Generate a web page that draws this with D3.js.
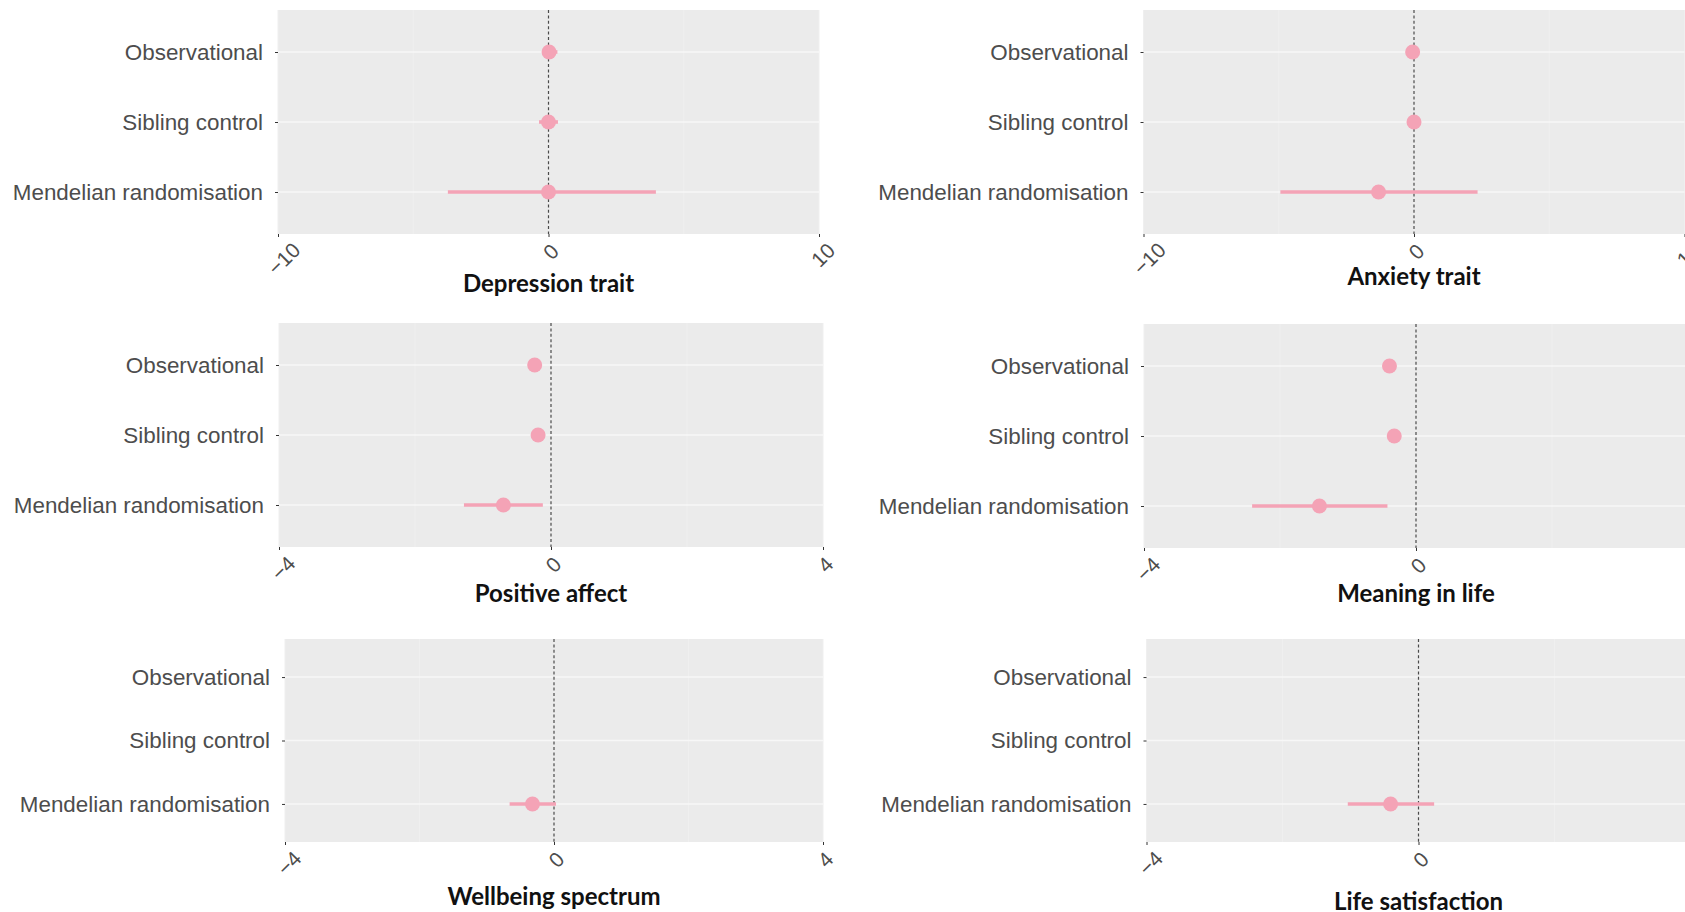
<!DOCTYPE html>
<html>
<head>
<meta charset="utf-8">
<script src="https://cdn.jsdelivr.net/npm/d3@7"></script>
<style>
  html, body { margin: 0; padding: 0; background: #ffffff; overflow: hidden; }
  svg { display: block; font-family: Lato, "Open Sans", sans-serif; }
</style>
</head>
<body>
<svg id="chart" width="1685" height="912"></svg>
<script>
// Study designs, top to bottom within every panel
const methods = ["Observational", "Sibling control", "Mendelian randomisation"];

// Outcome panels, in reading order
const outcomes = ["Depression trait", "Anxiety trait", "Positive affect",
                  "Meaning in life", "Wellbeing spectrum", "Life satisfaction"];

// Axis limits and tick labels per outcome
const xDomains = [[-10, 10], [-10, 10], [-4, 4], [-4, 4], [-4, 4], [-4, 4]];
const xTicks   = [[-10, 0, 10], [-10, 0, 10], [-4, 0, 4], [-4, 0, 4], [-4, 0, 4], [-4, 0, 4]];

// Point estimates (null = not estimated), one entry per method
const estimate = [
  [0.02, 0.0, 0.0],
  [-0.05, 0.0, -1.31],
  [-0.24, -0.19, -0.70],
  [-0.39, -0.32, -1.42],
  [null, null, -0.32],
  [null, null, -0.41]
];
// Lower and upper confidence limits
const ciLow = [
  [-0.2, -0.35, -3.72],
  [-0.2, -0.2, -4.94],
  [-0.29, -0.24, -1.28],
  [-0.44, -0.37, -2.41],
  [null, null, -0.66],
  [null, null, -1.04]
];
const ciHigh = [
  [0.33, 0.35, 3.97],
  [0.15, 0.2, 2.35],
  [-0.19, -0.14, -0.12],
  [-0.34, -0.27, -0.42],
  [null, null, 0.03],
  [null, null, 0.23]
];

// Panel frames on the page (left, right, top, bottom) and title centre offset
const frames = [
  {l: 278,    r: 819,    t: 10,  b: 234, title: 48},
  {l: 1143.5, r: 1684.5, t: 10,  b: 234, title: 41},
  {l: 279,    r: 823,    t: 323, b: 547, title: 45},
  {l: 1144,   r: 1688,   t: 324, b: 548, title: 44},
  {l: 285,    r: 823,    t: 639, b: 842, title: 53},
  {l: 1146.5, r: 1690.5, t: 639, b: 842, title: 58}
];

const PINK = "#F4A3B6";
const PANEL_BG = "#EBEBEB";
const TEXT_GREY = "#4D4D4D";

const svg = d3.select("#chart");

outcomes.forEach((name, i) => {
  const f = frames[i];
  const x = d3.scaleLinear().domain(xDomains[i]).range([f.l, f.r]);
  const y = d3.scalePoint().domain(methods).range([f.t, f.b]).padding(0.6);

  const g = svg.append("g").attr("class", "panel");

  // panel background
  g.append("rect")
    .attr("x", f.l).attr("y", f.t)
    .attr("width", f.r - f.l).attr("height", f.b - f.t)
    .attr("fill", PANEL_BG);

  // faint vertical grid at major and minor breaks
  const ticks = xTicks[i];
  const minor = d3.pairs(ticks).map(([a, b]) => (a + b) / 2);
  g.selectAll("line.vgrid")
    .data(ticks.concat(minor))
    .join("line")
    .attr("class", "vgrid")
    .attr("x1", d => x(d)).attr("x2", d => x(d))
    .attr("y1", f.t).attr("y2", f.b)
    .attr("stroke", "#EFEFEF").attr("stroke-width", 1);

  // horizontal grid at each method
  g.selectAll("line.hgrid")
    .data(methods)
    .join("line")
    .attr("class", "hgrid")
    .attr("x1", f.l).attr("x2", f.r)
    .attr("y1", d => y(d)).attr("y2", d => y(d))
    .attr("stroke", "#F7F7F7").attr("stroke-width", 1.4);

  // reference line at zero
  g.append("line")
    .attr("x1", x(0)).attr("x2", x(0))
    .attr("y1", f.t).attr("y2", f.b)
    .attr("stroke", "#4a4a4a").attr("stroke-width", 1.2)
    .attr("stroke-dasharray", "3,2.4");

  // estimates with intervals
  const rows = methods.map((m, j) => ({
    m, est: estimate[i][j], lo: ciLow[i][j], hi: ciHigh[i][j]
  })).filter(d => d.est !== null);

  g.selectAll("line.ci")
    .data(rows)
    .join("line")
    .attr("class", "ci")
    .attr("x1", d => x(d.lo)).attr("x2", d => x(d.hi))
    .attr("y1", d => y(d.m)).attr("y2", d => y(d.m))
    .attr("stroke", PINK).attr("stroke-width", 3.6);

  g.selectAll("circle.est")
    .data(rows)
    .join("circle")
    .attr("class", "est")
    .attr("cx", d => x(d.est)).attr("cy", d => y(d.m))
    .attr("r", 7.5)
    .attr("fill", PINK);

  // x axis
  const xAxis = g.append("g")
    .attr("transform", `translate(0,${f.b})`)
    .call(d3.axisBottom(x).tickValues(ticks).tickSize(3)
      .tickFormat(d => d < 0 ? "\u2212" + Math.abs(d) : String(d)));
  xAxis.select(".domain").remove();
  xAxis.selectAll(".tick line").attr("stroke", "#333").attr("stroke-width", 1);
  xAxis.selectAll(".tick text")
    .attr("fill", TEXT_GREY)
    .attr("font-size", 21)
    .attr("text-anchor", "middle")
    .attr("y", 0).attr("dy", 0)
    .attr("dominant-baseline", "central")
    .attr("transform", function () {
      const w = this.getComputedTextLength();
      return `translate(${w * 0.15},${14 + w * 0.3}) rotate(-45)`;
    });

  // y axis
  const yAxis = g.append("g")
    .attr("transform", `translate(${f.l},0)`)
    .call(d3.axisLeft(y).tickSize(3).tickPadding(12));
  yAxis.select(".domain").remove();
  yAxis.selectAll(".tick line").attr("stroke", "#333").attr("stroke-width", 1);
  yAxis.selectAll(".tick text")
    .attr("fill", TEXT_GREY)
    .attr("font-size", 22.4);

  // panel title
  g.append("text")
    .attr("x", x(0))
    .attr("y", f.b + f.title)
    .attr("text-anchor", "middle")
    .attr("dominant-baseline", "central")
    .attr("font-size", 24)
    .attr("font-weight", 700)
    .attr("fill", "#111")
    .text(name);
});
</script>
</body>
</html>
